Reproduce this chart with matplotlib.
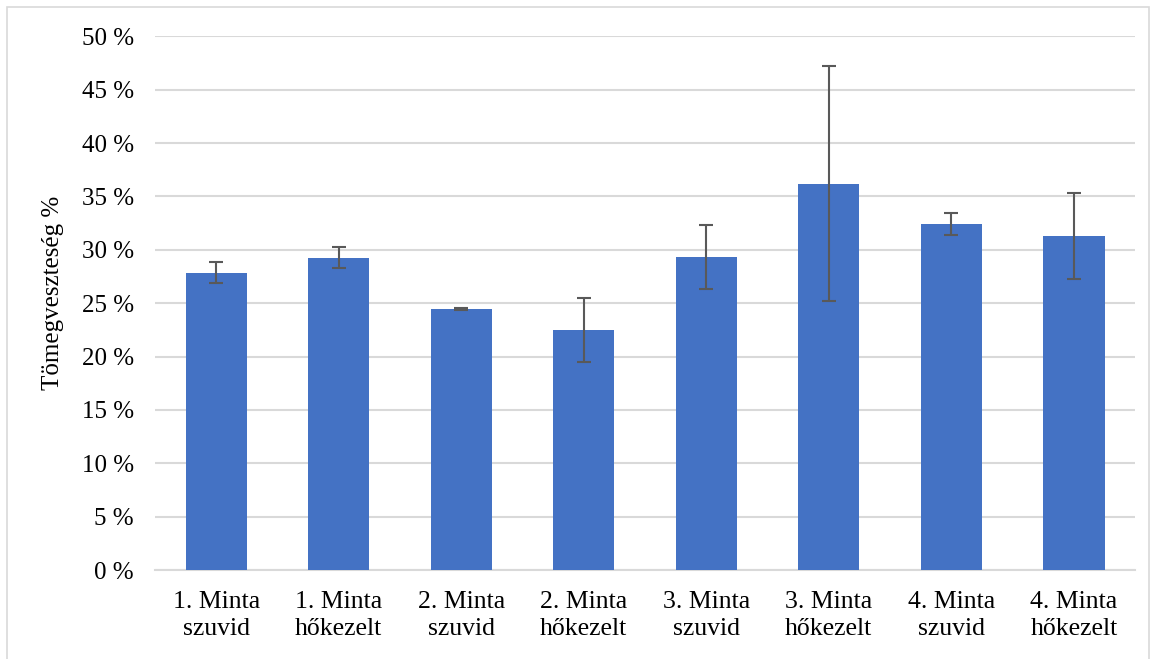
import matplotlib
matplotlib.use("Agg")
import matplotlib.pyplot as plt
from matplotlib.patches import Rectangle
from matplotlib.ticker import FuncFormatter

# data
labels = ["1. Minta\nszuvid", "1. Minta\nhőkezelt", "2. Minta\nszuvid", "2. Minta\nhőkezelt",
          "3. Minta\nszuvid", "3. Minta\nhőkezelt", "4. Minta\nszuvid", "4. Minta\nhőkezelt"]
loss = [27.85, 29.25, 24.45, 22.45, 29.35, 36.2, 32.4, 31.3]
err = [1.0, 1.0, 0.05, 3.0, 3.0, 11.0, 1.0, 4.0]
yticks = [0, 5, 10, 15, 20, 25, 30, 35, 40, 45, 50]

plt.rcParams['font.family'] = ['Liberation Serif', 'DejaVu Serif']

fig = plt.figure(figsize=(11.56, 6.59), dpi=100)
ax = fig.add_axes([0.134, 0.135, 0.848, 0.81])

x = list(range(len(labels)))
ax.bar(x, loss, width=0.5, color="#4472C4", zorder=3,
       yerr=err, error_kw=dict(ecolor="#595959", elinewidth=1.5, capsize=5, capthick=1.5, zorder=4))

ax.set_xlim(-0.5, len(labels) - 0.5)
ax.set_ylim(0, 50)
ax.set_yticks(yticks)
ax.yaxis.set_major_formatter(FuncFormatter(lambda v, p: "%d %%" % v))
ax.set_xticks(x)
ax.set_xticklabels(labels, fontsize=18.5, linespacing=1.3)
ax.tick_params(axis="y", labelsize=18, length=0, pad=15)
ax.tick_params(axis="x", length=0, pad=15)
ax.grid(axis="y", color="#d9d9d9", linewidth=1.5, zorder=0)
for s in ["top", "right", "left"]:
    ax.spines[s].set_visible(False)
ax.spines["bottom"].set_color("#d9d9d9")
ax.spines["bottom"].set_linewidth(1.5)
ax.set_ylabel("Tömegveszteség %", fontsize=18)
ax.yaxis.set_label_coords(-0.093, 0.52)

# chart area border
fig.patches.append(Rectangle((0.006, -0.01), 0.988, 0.999, transform=fig.transFigure,
                             fill=False, edgecolor="#d9d9d9", linewidth=1.2))

fig.savefig("out.png", dpi=100)
